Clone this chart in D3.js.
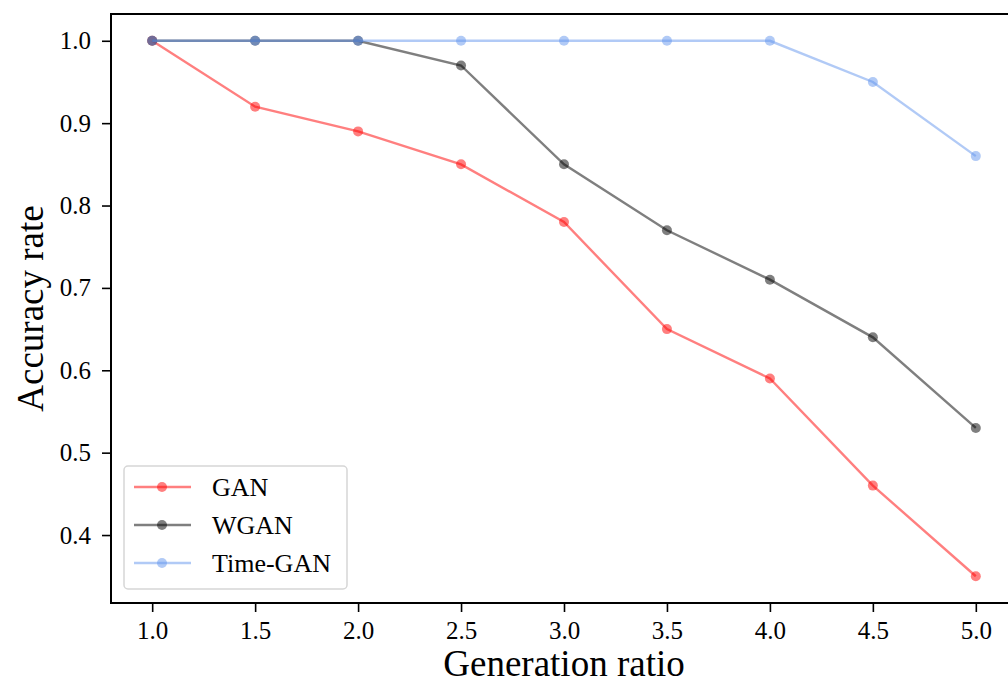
<!DOCTYPE html>
<meta charset="utf-8">
<script src="https://d3js.org/d3.v7.min.js"></script>
<style>
  body { margin: 0; background: #fff; }
  text { font-family: "Liberation Serif", "Times New Roman", serif; fill: #000; }
</style>
<div id="my_dataviz"></div>
<script>

// data
var ratios = [1.0, 1.5, 2.0, 2.5, 3.0, 3.5, 4.0, 4.5, 5.0];
var gan = [1.0, 0.92, 0.89, 0.85, 0.78, 0.65, 0.59, 0.46, 0.35];
var wgan = [1.0, 1.0, 1.0, 0.97, 0.85, 0.77, 0.71, 0.64, 0.53];
var timeGan = [1.0, 1.0, 1.0, 1.0, 1.0, 1.0, 1.0, 0.95, 0.86];
var seriesNames = ["GAN", "WGAN", "Time-GAN"];
var xTicks = [1.0, 1.5, 2.0, 2.5, 3.0, 3.5, 4.0, 4.5, 5.0];
var yTicks = [0.4, 0.5, 0.6, 0.7, 0.8, 0.9, 1.0];

var series = [
  {name: seriesNames[0], values: gan, color: "#ff0000"},
  {name: seriesNames[1], values: wgan, color: "#000000"},
  {name: seriesNames[2], values: timeGan, color: "#6495ed"}
];

// plot area (right edge falls just outside the window, like the reference)
var W = 1008, H = 686;
var plot = {left: 111, top: 14, right: 1017, bottom: 603};

var svg = d3.select("#my_dataviz")
  .append("svg")
  .attr("width", W)
  .attr("height", H);

var x = d3.scaleLinear().domain([0.8, 5.2]).range([plot.left, plot.right]);
var y = d3.scaleLinear().domain([0.3175, 1.0325]).range([plot.bottom, plot.top]);

// x axis
var xAxis = svg.append("g")
  .attr("transform", "translate(0," + plot.bottom + ")")
  .call(d3.axisBottom(x).tickValues(xTicks).tickFormat(d3.format(".1f")).tickSize(9).tickPadding(9).tickSizeOuter(0))
  .attr("font-family", null).attr("font-size", null);
xAxis.select(".domain").remove();
xAxis.selectAll(".tick line").attr("stroke", "#000").attr("stroke-width", 1.6);
xAxis.selectAll(".tick text").style("font-size", "25px");

// y axis
var yAxis = svg.append("g")
  .attr("transform", "translate(" + plot.left + ",0)")
  .call(d3.axisLeft(y).tickValues(yTicks).tickFormat(d3.format(".1f")).tickSize(9).tickPadding(11).tickSizeOuter(0))
  .attr("font-family", null).attr("font-size", null);
yAxis.select(".domain").remove();
yAxis.selectAll(".tick line").attr("stroke", "#000").attr("stroke-width", 1.6);
yAxis.selectAll(".tick text").style("font-size", "25px");

// frame
svg.append("rect")
  .attr("x", plot.left).attr("y", plot.top)
  .attr("width", plot.right - plot.left).attr("height", plot.bottom - plot.top)
  .attr("fill", "none").attr("stroke", "#000").attr("stroke-width", 2);

// lines + markers
var line = d3.line()
  .x(function(d, i) { return x(ratios[i]); })
  .y(function(d) { return y(d); });

series.forEach(function(s) {
  var g = svg.append("g");
  g.append("path")
    .datum(s.values)
    .attr("d", line)
    .attr("fill", "none")
    .attr("stroke", s.color)
    .attr("stroke-opacity", 0.5)
    .attr("stroke-width", 2.4);
  g.selectAll("circle")
    .data(s.values)
    .enter().append("circle")
      .attr("cx", function(d, i) { return x(ratios[i]); })
      .attr("cy", function(d) { return y(d); })
      .attr("r", 5)
      .attr("fill", s.color)
      .attr("fill-opacity", 0.5);
});

// legend
var legend = svg.append("g");
legend.append("rect")
  .attr("x", 124).attr("y", 466)
  .attr("width", 223).attr("height", 123)
  .attr("rx", 4)
  .attr("fill", "#fff").attr("fill-opacity", 0.8)
  .attr("stroke", "#d6d6d6").attr("stroke-width", 1.5);

series.forEach(function(s, i) {
  var ly = 487 + i * 38;
  legend.append("line")
    .attr("x1", 134).attr("x2", 191)
    .attr("y1", ly).attr("y2", ly)
    .attr("stroke", s.color).attr("stroke-opacity", 0.5).attr("stroke-width", 2.4);
  legend.append("circle")
    .attr("cx", 162).attr("cy", ly).attr("r", 5)
    .attr("fill", s.color).attr("fill-opacity", 0.5);
  legend.append("text")
    .attr("x", 212).attr("y", ly)
    .attr("dy", "0.35em")
    .style("font-size", "26px")
    .text(s.name);
});

// axis labels
svg.append("text")
  .attr("x", (plot.left + plot.right) / 2)
  .attr("y", 676)
  .attr("text-anchor", "middle")
  .style("font-size", "37px")
  .text("Generation ratio");

svg.append("text")
  .attr("transform", "translate(43," + ((plot.top + plot.bottom) / 2) + ")rotate(-90)")
  .attr("text-anchor", "middle")
  .style("font-size", "37px")
  .text("Accuracy rate");

</script>
